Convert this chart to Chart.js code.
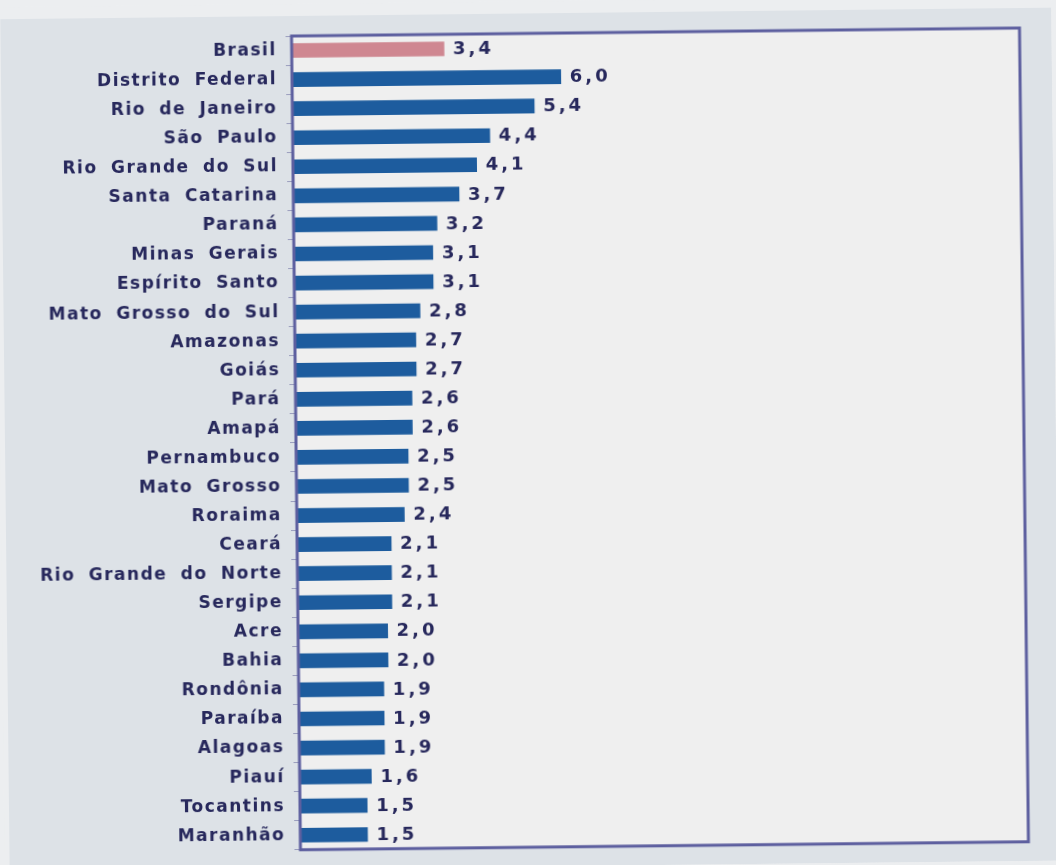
<!DOCTYPE html>
<html lang="pt-BR">
<head>
<meta charset="utf-8">
<title>Taxa por unidade da federação</title>
<script src="https://cdn.jsdelivr.net/npm/chart.js@4/dist/chart.umd.min.js"></script>
<style>
  html, body { margin: 0; padding: 0; background: #eceef0; overflow: hidden; }
  #wrap { width: 1056px; height: 865px; }
  #chart {
    display: block;
    transform: rotate(-0.63deg);
    transform-origin: 660px 441px;
  }
</style>
</head>
<body>
<div id="wrap"><canvas id="chart" width="1056" height="865"></canvas></div>
<script>
// Unidades da federação, na ordem do gráfico (Brasil em destaque no topo)
const categories = [
  'Brasil', 'Distrito Federal', 'Rio de Janeiro', 'São Paulo', 'Rio Grande do Sul',
  'Santa Catarina', 'Paraná', 'Minas Gerais', 'Espírito Santo', 'Mato Grosso do Sul',
  'Amazonas', 'Goiás', 'Pará', 'Amapá', 'Pernambuco', 'Mato Grosso', 'Roraima',
  'Ceará', 'Rio Grande do Norte', 'Sergipe', 'Acre', 'Bahia', 'Rondônia',
  'Paraíba', 'Alagoas', 'Piauí', 'Tocantins', 'Maranhão'
];
const values = [
  3.4, 6.0, 5.4, 4.4, 4.1,
  3.7, 3.2, 3.1, 3.1, 2.8,
  2.7, 2.7, 2.6, 2.6, 2.5, 2.5, 2.4,
  2.1, 2.1, 2.1, 2.0, 2.0, 1.9,
  1.9, 1.9, 1.6, 1.5, 1.5
];
const highlighted = ['Brasil'];

const BAR_BLUE = '#1d5c9e';
const BAR_PINK = '#cf8791';
const TEXT_NAVY = '#27285c';
const FRAME = '#5d5f9f';

const barColors = categories.map(c => highlighted.includes(c) ? BAR_PINK : BAR_BLUE);
const fmt = v => v.toFixed(1).replace('.', ',');

// Fundo da página, da área externa e do interior do gráfico
const backdrop = {
  id: 'backdrop',
  beforeDraw(chart) {
    const { ctx, chartArea: a, width, height } = chart;
    ctx.save();
    ctx.fillStyle = '#eceef0';
    ctx.fillRect(0, 0, width, height);
    ctx.fillStyle = '#dde2e7';
    ctx.fillRect(5, 12, width - 5, height - 12);
    ctx.fillStyle = '#efefef';
    ctx.fillRect(a.left, a.top, a.right - a.left, a.bottom - a.top);
    ctx.restore();
    // espaçamento largo dos rótulos das categorias
    ctx.letterSpacing = '1.5px';
    ctx.wordSpacing = '6px';
  }
};

// Valores escritos à direita de cada barra
const valueLabels = {
  id: 'valueLabels',
  afterDatasetsDraw(chart) {
    const { ctx } = chart;
    const meta = chart.getDatasetMeta(0);
    ctx.save();
    ctx.letterSpacing = '3px';
    ctx.wordSpacing = '0px';
    ctx.font = 'bold 18px "DejaVu Sans"';
    ctx.fillStyle = TEXT_NAVY;
    ctx.textAlign = 'left';
    ctx.textBaseline = 'middle';
    meta.data.forEach((bar, i) => {
      ctx.fillText(fmt(values[i]), bar.x + 9, bar.y + 1);
    });
    ctx.restore();
  }
};

// Moldura em volta da área de plotagem
const frame = {
  id: 'frame',
  afterDraw(chart) {
    const { ctx, chartArea: a } = chart;
    ctx.save();
    ctx.strokeStyle = FRAME;
    ctx.lineWidth = 3;
    ctx.strokeRect(a.left, a.top, a.right - a.left, a.bottom - a.top);
    ctx.restore();
    ctx.letterSpacing = '0px';
    ctx.wordSpacing = '0px';
  }
};

new Chart(document.getElementById('chart'), {
  type: 'bar',
  data: {
    labels: categories,
    datasets: [{
      data: values,
      backgroundColor: barColors,
      borderWidth: 0,
      barThickness: 14
    }]
  },
  options: {
    indexAxis: 'y',
    responsive: false,
    animation: false,
    devicePixelRatio: 1,
    layout: { padding: { top: 32, right: 32, bottom: 15, left: 0 } },
    plugins: {
      legend: { display: false },
      tooltip: { enabled: false }
    },
    scales: {
      x: {
        display: false,
        min: 0,
        max: 16.25
      },
      y: {
        offset: true,
        border: { display: false },
        grid: {
          offset: true,
          drawOnChartArea: false,
          drawTicks: true,
          tickLength: 6,
          color: '#9a9dbd',
          lineWidth: 1
        },
        ticks: {
          autoSkip: false,
          padding: 9,
          color: TEXT_NAVY,
          font: { family: '"DejaVu Sans"', size: 17, weight: 'bold' }
        },
        afterFit(scale) { scale.width = 296; }
      }
    }
  },
  plugins: [backdrop, valueLabels, frame]
});
</script>
</body>
</html>
